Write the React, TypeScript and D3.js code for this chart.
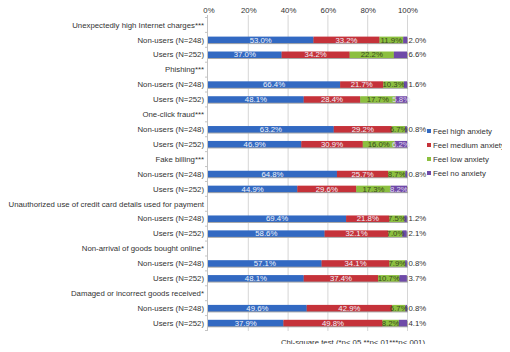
import React, { useEffect, useRef } from 'react'
import * as d3 from 'd3'

const categories = [
  'Unexpectedly high Internet charges***',
  'Phishing***',
  'One-click fraud***',
  'Fake billing***',
  'Unauthorized use of credit card details used for payment',
  'Non-arrival of goods bought online*',
  'Damaged or incorrect goods received*',
]
const groups = ['Non-users (N=248)', 'Users (N=252)']
const seriesNames = ['Feel high anxiety', 'Feel medium anxiety', 'Feel low anxiety', 'Feel no anxiety']
const colors = ['#3269c2', '#c5323a', '#8cbf3f', '#6f4aa8']
const xTicks = [0, 20, 40, 60, 80, 100]

// [non-users, users] for each category
const high = [[53.0, 37.0], [66.4, 48.1], [63.2, 46.9], [64.8, 44.9], [69.4, 58.6], [57.1, 48.1], [49.6, 37.9]]
const medium = [[33.2, 34.2], [21.7, 28.4], [29.2, 30.9], [25.7, 29.6], [21.8, 32.1], [34.1, 37.4], [42.9, 49.8]]
const low = [[11.9, 22.2], [10.3, 17.7], [6.7, 16.0], [8.7, 17.3], [7.5, 7.0], [7.9, 10.7], [6.7, 8.2]]
const none = [[2.0, 6.6], [1.6, 5.8], [0.8, 6.2], [0.8, 8.2], [1.2, 2.1], [0.8, 3.7], [0.8, 4.1]]
// purple labels drawn inside the bar rather than beside it
const noneInside = [[false, false], [false, true], [false, true], [false, true], [false, false], [false, false], [false, false]]

interface Row {
  id: string
  label: string
  values?: number[]
  inside?: boolean
}

export default function App() {
  const svgRef = useRef<SVGSVGElement>(null)

  useEffect(() => {
    if (!svgRef.current) return
    const svg = d3.select(svgRef.current)
    svg.selectAll('*').remove()

    const font = '"Liberation Sans", Arial, sans-serif'
    const fs = 7.8
    const rows: Row[] = []
    categories.forEach((c, ci) => {
      rows.push({ id: `c${ci}`, label: c })
      groups.forEach((g, gi) => {
        rows.push({
          id: `c${ci}g${gi}`,
          label: g,
          values: [high[ci][gi], medium[ci][gi], low[ci][gi], none[ci][gi]],
          inside: noneInside[ci][gi],
        })
      })
    })

    const x = d3.scaleLinear().domain([0, 100]).range([208, 407])
    const y = d3.scaleBand().domain(rows.map((r) => r.id)).range([17.5, 330.5])
    const barH = 6.5

    // grid
    svg.append('g')
      .selectAll('line')
      .data(xTicks.slice(1))
      .join('line')
      .attr('x1', (d) => x(d) + 0.5)
      .attr('x2', (d) => x(d) + 0.5)
      .attr('y1', 15)
      .attr('y2', 331)
      .attr('stroke', '#d6d6d6')
      .attr('stroke-width', 1)

    svg.append('g')
      .selectAll('text')
      .data(xTicks)
      .join('text')
      .attr('x', (d) => x(d) + 1)
      .attr('y', 10)
      .attr('dy', '0.35em')
      .attr('text-anchor', 'middle')
      .attr('font-size', fs)
      .attr('font-family', font)
      .attr('fill', '#333')
      .text((d) => `${d}%`)

    // left axis
    svg.append('line')
      .attr('x1', x(0) - 0.5).attr('x2', x(0) - 0.5)
      .attr('y1', 15).attr('y2', 331)
      .attr('stroke', '#c4c4c4')
    svg.append('g')
      .selectAll('line')
      .data(d3.range(rows.length + 1))
      .join('line')
      .attr('x1', x(0) - 3).attr('x2', x(0))
      .attr('y1', (i) => 17.5 + i * y.step())
      .attr('y2', (i) => 17.5 + i * y.step())
      .attr('stroke', '#c4c4c4')

    svg.append('g')
      .selectAll('text')
      .data(rows)
      .join('text')
      .attr('x', 204)
      .attr('y', (d) => (y(d.id) || 0) + y.bandwidth() / 2)
      .attr('dy', '0.35em')
      .attr('text-anchor', 'end')
      .attr('font-size', fs)
      .attr('font-family', font)
      .attr('fill', '#333')
      .text((d) => d.label)

    const barRows = rows.filter((r) => r.values)
    barRows.forEach((r) => {
      const cy = (y(r.id) || 0) + y.bandwidth() / 2
      const vals = r.values || []
      let acc = 0
      const g = svg.append('g')
      g.append('rect')
        .attr('x', x(0))
        .attr('y', cy - barH / 2 + 1)
        .attr('width', x(100) - x(0) + 1)
        .attr('height', barH)
        .attr('fill', '#a8a8a8')
      vals.forEach((v, si) => {
        const x0 = x(acc)
        const x1 = x(acc + v)
        g.append('rect')
          .attr('x', x0)
          .attr('y', cy - barH / 2)
          .attr('width', x1 - x0)
          .attr('height', barH)
          .attr('fill', colors[si])
        acc += v
      })
      acc = 0
      vals.forEach((v, si) => {
        const x0 = x(acc)
        const x1 = x(acc + v)
        const outside = si === 3 && !r.inside
        g.append('text')
          .attr('x', outside ? x(100) + 1.5 : (x0 + x1) / 2)
          .attr('y', cy)
          .attr('dy', '0.35em')
          .attr('text-anchor', outside ? 'start' : 'middle')
          .attr('font-size', fs)
          .attr('font-family', font)
          .attr('fill', outside ? '#333' : si === 2 ? '#3a4a20' : si === 3 ? '#e0d8f0' : '#eef2fa')
          .text(`${v.toFixed(1)}%`)
        acc += v
      })
    })

    const legend = svg.append('g').attr('transform', 'translate(427, 131)')
    legend.selectAll('g')
      .data(seriesNames)
      .join('g')
      .attr('transform', (d, i) => `translate(0, ${i * 14})`)
      .each(function (d, i) {
        const lg = d3.select(this)
        lg.append('rect')
          .attr('x', 0).attr('y', -2)
          .attr('width', 4).attr('height', 4)
          .attr('fill', colors[i])
        lg.append('text')
          .attr('x', 6).attr('y', 0).attr('dy', '0.35em')
          .attr('font-size', fs)
          .attr('font-family', font)
          .attr('fill', '#333')
          .text(d)
      })

    svg.append('text')
      .attr('x', 425)
      .attr('y', 342)
      .attr('dy', '0.35em')
      .attr('text-anchor', 'end')
      .attr('font-size', fs)
      .attr('font-family', font)
      .attr('fill', '#333')
      .text('Chi-square test (*p<.05,**p<.01***p<.001)')
  }, [])

  return (
    <div style={{ margin: -8 }}>
      <svg ref={svgRef} width={510} height={352} style={{ display: 'block', background: '#fff' }} />
    </div>
  )
}
